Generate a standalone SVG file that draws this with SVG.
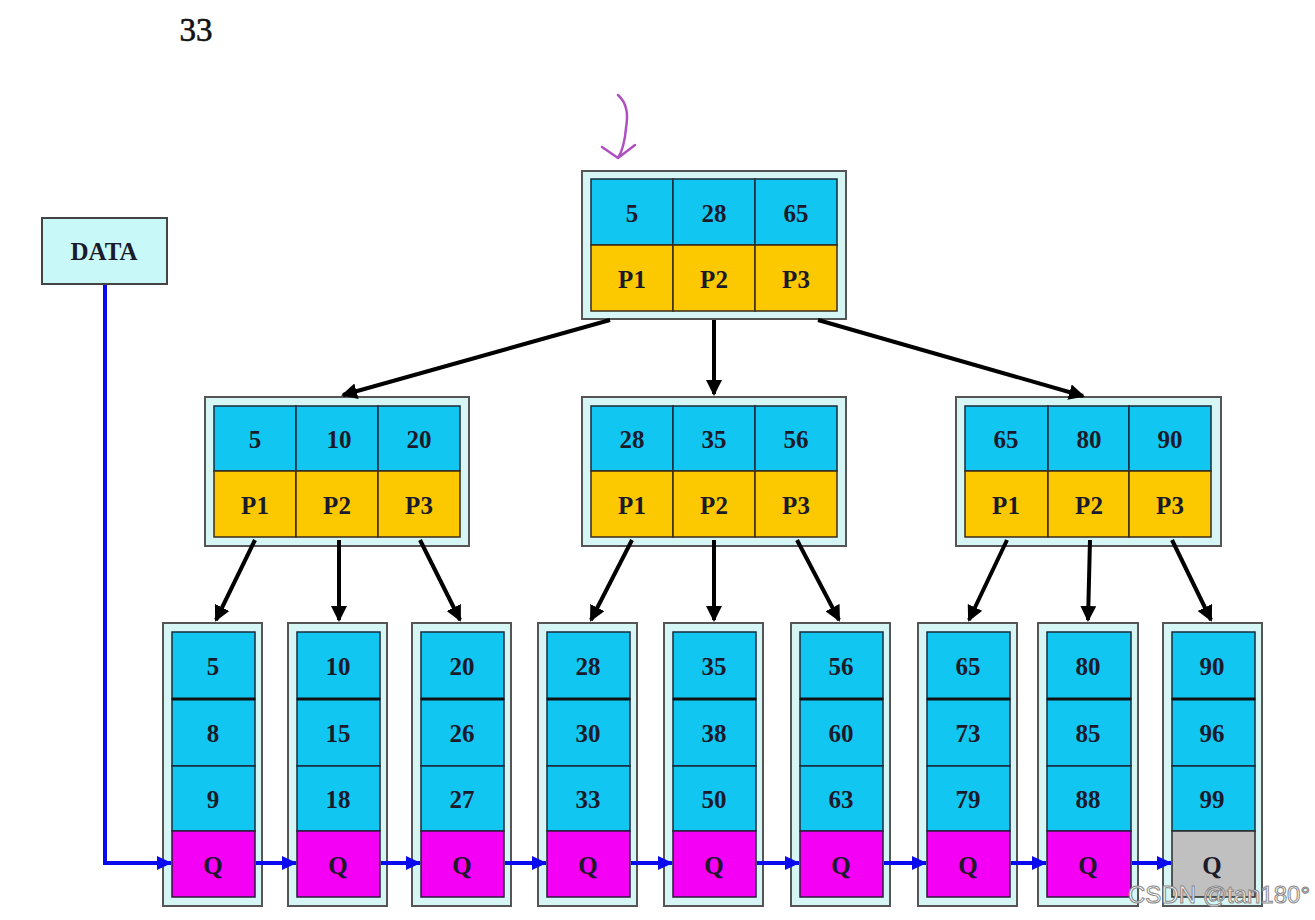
<svg xmlns="http://www.w3.org/2000/svg" width="1315" height="920" viewBox="0 0 1315 920">
<style>
.outer{fill:#d6f6f6;stroke:#555;stroke-width:2}
.key{fill:#12c6f2;stroke:#1a2a3a;stroke-width:1.5}
.ptr{fill:#fcc800;stroke:#3a2a1a;stroke-width:1.5}
.q{fill:#f400f4;stroke:#2a1a3a;stroke-width:1.5}
.qe{fill:#c0c0c0;stroke:#2a2a2a;stroke-width:1.5}
.sep{stroke:#111;stroke-width:3}
.t{font-family:"Liberation Serif",serif;font-weight:bold;font-size:25px;fill:#1a1a2a;text-anchor:middle}
.edge{stroke:#000;stroke-width:4;fill:none;marker-end:url(#ah)}
.link{stroke:#0a0aee;stroke-width:4;fill:none;marker-end:url(#bh)}
</style>
<defs>
<marker id="ah" markerWidth="18" markerHeight="16" refX="14" refY="8" orient="auto" markerUnits="userSpaceOnUse"><path d="M0,0 L16,8 L0,16 Z" fill="#000"/></marker>
<marker id="bh" markerWidth="16" markerHeight="14" refX="14" refY="7" orient="auto" markerUnits="userSpaceOnUse"><path d="M0,0 L15,7 L0,14 Z" fill="#0a0aee"/></marker>
</defs>
<rect width="1315" height="920" fill="#fff"/>
<text x="196" y="41" font-family="'Liberation Serif',serif" font-size="33" text-anchor="middle" fill="#111" stroke="#111" stroke-width="0.6">33</text>
<path d="M618,95 C628,104 628,116 626,128 C625,140 623,150 618,158 M602,147 L618,158 L635,145" fill="none" stroke="#b050c0" stroke-width="2.5" stroke-linecap="round" stroke-linejoin="round"/>

<g id="data">
<rect x="42" y="218" width="125" height="66" fill="#c8f8f8" stroke="#444" stroke-width="2"/>
<text class="t" x="104" y="260" font-size="22">DATA</text>
</g>

<g id="root">
<rect class="outer" x="582" y="171" width="264" height="148"/>
<rect class="key" x="591" y="179" width="82" height="66"/><rect class="key" x="673" y="179" width="82" height="66"/><rect class="key" x="755" y="179" width="82" height="66"/>
<rect class="ptr" x="591" y="245" width="82" height="66"/><rect class="ptr" x="673" y="245" width="82" height="66"/><rect class="ptr" x="755" y="245" width="82" height="66"/>
<text class="t" x="632" y="222">5</text><text class="t" x="714" y="222">28</text><text class="t" x="796" y="222">65</text>
<text class="t" x="632" y="288">P1</text><text class="t" x="714" y="288">P2</text><text class="t" x="796" y="288">P3</text>
</g>

<g id="mid-left">
<rect class="outer" x="205" y="397" width="264" height="149"/>
<rect class="key" x="214" y="406" width="82" height="65"/><rect class="key" x="296" y="406" width="82" height="65"/><rect class="key" x="378" y="406" width="82" height="65"/>
<rect class="ptr" x="214" y="471" width="82" height="66"/><rect class="ptr" x="296" y="471" width="82" height="66"/><rect class="ptr" x="378" y="471" width="82" height="66"/>
<text class="t" x="255" y="448">5</text><text class="t" x="339" y="448">10</text><text class="t" x="419" y="448">20</text>
<text class="t" x="255" y="514">P1</text><text class="t" x="337" y="514">P2</text><text class="t" x="419" y="514">P3</text>
</g>

<g id="mid-center">
<rect class="outer" x="582" y="397" width="264" height="149"/>
<rect class="key" x="591" y="406" width="82" height="65"/><rect class="key" x="673" y="406" width="82" height="65"/><rect class="key" x="755" y="406" width="82" height="65"/>
<rect class="ptr" x="591" y="471" width="82" height="66"/><rect class="ptr" x="673" y="471" width="82" height="66"/><rect class="ptr" x="755" y="471" width="82" height="66"/>
<text class="t" x="632" y="448">28</text><text class="t" x="714" y="448">35</text><text class="t" x="796" y="448">56</text>
<text class="t" x="632" y="514">P1</text><text class="t" x="714" y="514">P2</text><text class="t" x="796" y="514">P3</text>
</g>

<g id="mid-right">
<rect class="outer" x="956" y="397" width="265" height="149"/>
<rect class="key" x="965" y="406" width="83" height="65"/><rect class="key" x="1048" y="406" width="81" height="65"/><rect class="key" x="1129" y="406" width="82" height="65"/>
<rect class="ptr" x="965" y="471" width="83" height="66"/><rect class="ptr" x="1048" y="471" width="81" height="66"/><rect class="ptr" x="1129" y="471" width="82" height="66"/>
<text class="t" x="1006" y="448">65</text><text class="t" x="1089" y="448">80</text><text class="t" x="1170" y="448">90</text>
<text class="t" x="1006" y="514">P1</text><text class="t" x="1089" y="514">P2</text><text class="t" x="1170" y="514">P3</text>
</g>

<g id="leaf1">
<rect class="outer" x="163" y="623" width="99" height="283"/>
<rect class="key" x="172" y="632" width="83" height="67"/><rect class="key" x="172" y="699" width="83" height="67"/><rect class="key" x="172" y="766" width="83" height="65"/><rect class="q" x="172" y="831" width="83" height="66"/>
<line class="sep" x1="172" y1="699" x2="255" y2="699"/>
<text class="t" x="213" y="675">5</text><text class="t" x="213" y="742">8</text><text class="t" x="213" y="808">9</text><text class="t" x="213" y="874">Q</text>
</g>
<g id="leaf2">
<rect class="outer" x="288" y="623" width="99" height="283"/>
<rect class="key" x="297" y="632" width="83" height="67"/><rect class="key" x="297" y="699" width="83" height="67"/><rect class="key" x="297" y="766" width="83" height="65"/><rect class="q" x="297" y="831" width="83" height="66"/>
<line class="sep" x1="297" y1="699" x2="380" y2="699"/>
<text class="t" x="338" y="675">10</text><text class="t" x="338" y="742">15</text><text class="t" x="338" y="808">18</text><text class="t" x="338" y="874">Q</text>
</g>
<g id="leaf3">
<rect class="outer" x="412" y="623" width="99" height="283"/>
<rect class="key" x="421" y="632" width="83" height="67"/><rect class="key" x="421" y="699" width="83" height="67"/><rect class="key" x="421" y="766" width="83" height="65"/><rect class="q" x="421" y="831" width="83" height="66"/>
<line class="sep" x1="421" y1="699" x2="504" y2="699"/>
<text class="t" x="462" y="675">20</text><text class="t" x="462" y="742">26</text><text class="t" x="462" y="808">27</text><text class="t" x="462" y="874">Q</text>
</g>
<g id="leaf4">
<rect class="outer" x="538" y="623" width="99" height="283"/>
<rect class="key" x="547" y="632" width="83" height="67"/><rect class="key" x="547" y="699" width="83" height="67"/><rect class="key" x="547" y="766" width="83" height="65"/><rect class="q" x="547" y="831" width="83" height="66"/>
<line class="sep" x1="547" y1="699" x2="630" y2="699"/>
<text class="t" x="588" y="675">28</text><text class="t" x="588" y="742">30</text><text class="t" x="588" y="808">33</text><text class="t" x="588" y="874">Q</text>
</g>
<g id="leaf5">
<rect class="outer" x="664" y="623" width="99" height="283"/>
<rect class="key" x="673" y="632" width="83" height="67"/><rect class="key" x="673" y="699" width="83" height="67"/><rect class="key" x="673" y="766" width="83" height="65"/><rect class="q" x="673" y="831" width="83" height="66"/>
<line class="sep" x1="673" y1="699" x2="756" y2="699"/>
<text class="t" x="714" y="675">35</text><text class="t" x="714" y="742">38</text><text class="t" x="714" y="808">50</text><text class="t" x="714" y="874">Q</text>
</g>
<g id="leaf6">
<rect class="outer" x="791" y="623" width="99" height="283"/>
<rect class="key" x="800" y="632" width="83" height="67"/><rect class="key" x="800" y="699" width="83" height="67"/><rect class="key" x="800" y="766" width="83" height="65"/><rect class="q" x="800" y="831" width="83" height="66"/>
<line class="sep" x1="800" y1="699" x2="883" y2="699"/>
<text class="t" x="841" y="675">56</text><text class="t" x="841" y="742">60</text><text class="t" x="841" y="808">63</text><text class="t" x="841" y="874">Q</text>
</g>
<g id="leaf7">
<rect class="outer" x="918" y="623" width="99" height="283"/>
<rect class="key" x="927" y="632" width="83" height="67"/><rect class="key" x="927" y="699" width="83" height="67"/><rect class="key" x="927" y="766" width="83" height="65"/><rect class="q" x="927" y="831" width="83" height="66"/>
<line class="sep" x1="927" y1="699" x2="1010" y2="699"/>
<text class="t" x="968" y="675">65</text><text class="t" x="968" y="742">73</text><text class="t" x="968" y="808">79</text><text class="t" x="968" y="874">Q</text>
</g>
<g id="leaf8">
<rect class="outer" x="1038" y="623" width="100" height="283"/>
<rect class="key" x="1047" y="632" width="84" height="67"/><rect class="key" x="1047" y="699" width="84" height="67"/><rect class="key" x="1047" y="766" width="84" height="65"/><rect class="q" x="1047" y="831" width="84" height="66"/>
<line class="sep" x1="1047" y1="699" x2="1131" y2="699"/>
<text class="t" x="1088" y="675">80</text><text class="t" x="1088" y="742">85</text><text class="t" x="1088" y="808">88</text><text class="t" x="1088" y="874">Q</text>
</g>
<g id="leaf9">
<rect class="outer" x="1163" y="623" width="99" height="283"/>
<rect class="key" x="1172" y="632" width="83" height="67"/><rect class="key" x="1172" y="699" width="83" height="67"/><rect class="key" x="1172" y="766" width="83" height="65"/><rect class="qe" x="1172" y="831" width="83" height="66"/>
<line class="sep" x1="1172" y1="699" x2="1255" y2="699"/>
<text class="t" x="1212" y="675">90</text><text class="t" x="1212" y="742">96</text><text class="t" x="1212" y="808">99</text><text class="t" x="1212" y="874">Q</text>
</g>

<g id="connectors">
<path class="edge" d="M610,320 L343,395"/>
<path class="edge" d="M714,320 L714,394"/>
<path class="edge" d="M818,320 L1083,396"/>
<path class="edge" d="M255,540 L216,620"/>
<path class="edge" d="M339,540 L339,620"/>
<path class="edge" d="M420,540 L460,620"/>
<path class="edge" d="M632,540 L591,620"/>
<path class="edge" d="M714,540 L714,620"/>
<path class="edge" d="M797,540 L839,620"/>
<path class="edge" d="M1007,540 L969,620"/>
<path class="edge" d="M1090,540 L1088,620"/>
<path class="edge" d="M1172,540 L1211,620"/>
<path class="link" d="M105,285 L105,863 L171,863"/>
<path class="link" d="M256,863 L296,863"/>
<path class="link" d="M381,863 L420,863"/>
<path class="link" d="M505,863 L546,863"/>
<path class="link" d="M631,863 L672,863"/>
<path class="link" d="M757,863 L799,863"/>
<path class="link" d="M884,863 L926,863"/>
<path class="link" d="M1011,863 L1046,863"/>
<path class="link" d="M1132,863 L1171,863"/>
</g>

<text x="1310" y="903" font-family="'Liberation Sans',sans-serif" font-size="24" text-anchor="end" fill="#fff" stroke="#888" stroke-width="1">CSDN @tan180°</text>
</svg>
